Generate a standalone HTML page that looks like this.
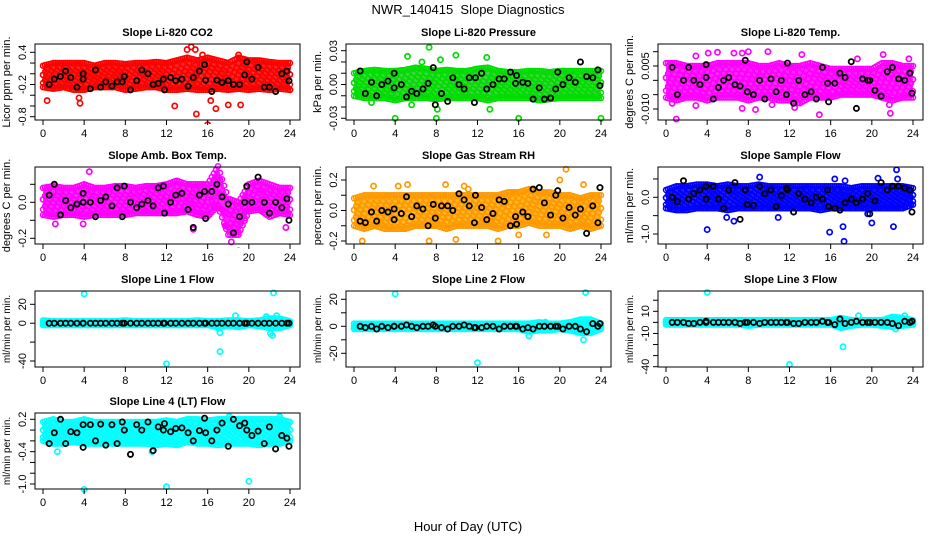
<!DOCTYPE html>
<html><head><meta charset="utf-8"><style>
html,body{margin:0;padding:0;background:#fff}
svg{display:block;font-family:"Liberation Sans",Arial,sans-serif}
</style></head><body>
<svg id="chart" width="936" height="540" viewBox="0 0 936 540">
<text x="468" y="14" text-anchor="middle" font-size="13" style="white-space:pre">NWR_140415  Slope Diagnostics</text>
<text x="468" y="531" text-anchor="middle" font-size="13">Hour of Day (UTC)</text>
</svg>
<script>
// shared black-point hours
const blkX=[0.6,1.1,1.7,2.2,2.7,3.3,3.9,3.9,4.6,5.1,5.6,6.1,6.7,7.2,7.7,7.9,8.5,9.1,9.6,10.2,10.7,11.2,11.7,11.8,12.4,12.9,13.5,14.1,14.6,15.2,15.7,15.8,16.4,16.9,17.4,18.0,18.5,19.1,19.6,19.8,20.3,20.9,21.5,22.0,22.6,23.2,23.7,23.9];
const xTicks=[0,4,8,12,16,20,24];
// envelope hours 0..24
const p1Lo=[-0.25,-0.28,-0.25,-0.3,-0.3,-0.25,-0.25,-0.25,-0.3,-0.28,-0.25,-0.25,-0.3,-0.3,-0.28,-0.3,-0.3,-0.28,-0.3,-0.28,-0.3,-0.28,-0.3,-0.28,-0.3];
const p1Hi=[0.15,0.2,0.2,0.2,0.2,0.15,0.2,0.2,0.18,0.2,0.2,0.22,0.2,0.25,0.3,0.25,0.3,0.25,0.2,0.3,0.25,0.25,0.22,0.2,0.2];
const p1OutX=[0.4,3.5,3.6,12.8,14,14.4,14.8,14.9,16,16.3,16.8,18,19.2,19,24,15.5];
const p1OutY=[-0.5,-0.45,-0.55,-0.6,0.45,0.5,0.45,-0.75,-0.95,-0.5,-0.65,-0.58,-0.58,0.35,-0.3,0.35];
const p1Blk=[-0.2,-0.1,-0.05,0.05,-0.07,-0.25,0.0,-0.1,-0.28,0.07,-0.25,-0.15,-0.23,-0.15,-0.15,-0.05,-0.3,-0.13,0.07,0.0,-0.2,-0.18,-0.1,-0.3,-0.07,-0.13,-0.1,-0.23,-0.07,0.05,0.17,-0.12,-0.33,-0.12,-0.16,-0.13,-0.2,-0.2,-0.02,0.22,-0.1,0.12,-0.25,-0.25,-0.33,0.0,0.05,-0.13];
const p1Ticks=[0.4,0.2,0,-0.2,-0.4,-0.6,-0.8];
const p1Labels=["0.4","","","-0.2","","","-0.8"];

const p2Lo=[-0.01,-0.012,-0.012,-0.012,-0.014,-0.012,-0.012,-0.012,-0.013,-0.012,-0.012,-0.012,-0.012,-0.014,-0.012,-0.012,-0.012,-0.012,-0.014,-0.013,-0.012,-0.012,-0.012,-0.012,-0.012];
const p2Hi=[0.01,0.012,0.013,0.012,0.012,0.013,0.015,0.014,0.012,0.013,0.012,0.012,0.014,0.015,0.012,0.011,0.011,0.012,0.012,0.011,0.012,0.012,0.012,0.012,0.012];
const p2OutX=[4,5.2,7.3,8,9.9,12.9,13.2,16,24,6.6,8.4,1.7,5.6,8.1];
const p2OutY=[-0.03,0.025,0.033,-0.03,0.026,0.024,-0.022,-0.03,-0.03,0.02,0.022,-0.016,-0.018,-0.022];
const p2Blk=[0.012,-0.008,0.002,-0.01,0.0,0.003,-0.003,0.01,0.0,-0.011,-0.006,-0.008,-0.004,0.001,0.015,-0.018,-0.008,-0.015,0.006,0.0,-0.004,0.006,-0.016,0.006,0.01,-0.004,0.0,0.005,0.005,0.011,0.001,0.008,0.002,0.001,-0.013,-0.003,-0.013,-0.012,-0.004,0.011,0.0,0.006,0.002,0.02,0.007,0.006,0.013,-0.001];
const p2Ticks=[0.03,0.02,0.01,0,-0.01,-0.02,-0.03];
const p2Labels=["0.03","","","0.00","","","-0.03"];

const p3Lo=[-0.006,-0.007,-0.006,-0.006,-0.007,-0.006,-0.006,-0.006,-0.007,-0.006,-0.006,-0.007,-0.007,-0.008,-0.006,-0.006,-0.006,-0.005,-0.005,-0.005,-0.005,-0.006,-0.007,-0.006,-0.006];
const p3Hi=[0.006,0.006,0.005,0.005,0.005,0.006,0.006,0.006,0.006,0.005,0.005,0.006,0.005,0.005,0.006,0.005,0.004,0.004,0.004,0.004,0.004,0.006,0.006,0.005,0.005];
const p3OutX=[1,2.9,4.1,5,6.6,7.4,8,9.9,13.2,14.9,18.6,21.1,21.8,0.6,2.9,7.4,8.7,10.3,12.5,21.7,23.6];
const p3OutY=[-0.0135,0.0085,0.0095,0.0098,0.0095,0.0095,0.01,0.01,0.009,-0.012,0.0075,0.009,-0.0115,-0.008,-0.0088,-0.0098,-0.0102,-0.0085,-0.0095,-0.0085,0.0075];
const p3Blk=[0.0045,-0.005,0.0,0.0045,0.0,-0.0015,0.0055,0.001,-0.0065,-0.0025,0.0,0.001,-0.0015,-0.002,0.007,-0.004,-0.005,0.0,-0.0065,0.0005,-0.004,0.0,-0.005,0.006,-0.008,0.0,-0.005,-0.004,-0.0065,0.0045,-0.001,-0.0075,-0.001,0.0025,0.001,0.0065,-0.0098,0.0005,0.0,0.0,-0.0035,-0.0055,0.003,0.0045,0.0005,0.0,0.0025,-0.0045];
const p3Ticks=[0.01,0.005,0,-0.005,-0.01];
const p3Labels=["","0.005","","","-0.010"];

const p4Lo=[-0.07,-0.08,-0.07,-0.07,-0.08,-0.07,-0.07,-0.07,-0.07,-0.06,-0.06,-0.06,-0.06,-0.06,-0.05,-0.07,-0.08,-0.02,-0.18,-0.18,-0.05,-0.04,-0.08,-0.06,-0.07];
const p4Hi=[0.08,0.09,0.08,0.08,0.1,0.08,0.08,0.09,0.09,0.08,0.09,0.09,0.1,0.12,0.1,0.1,0.1,0.2,0.02,0.0,0.1,0.12,0.1,0.08,0.08];
const p4OutX=[4.5,14.6,19,3.9,1.2,23.6,17.1,17.7,18.3];
const p4OutY=[0.17,-0.15,-0.27,-0.12,-0.12,-0.14,0.25,-0.13,-0.22];
const p4Blk=[0.04,0.1,-0.07,0.01,-0.03,-0.01,0.05,0.0,0.0,-0.08,0.01,0.03,-0.02,0.08,-0.08,0.09,0.0,-0.03,-0.01,0.01,-0.02,0.08,0.09,-0.06,0.0,0.04,0.05,-0.04,-0.14,0.04,0.06,-0.09,0.06,0.1,0.03,-0.01,-0.17,-0.08,0.0,0.09,0.0,0.14,0.0,-0.06,0.0,-0.03,0.02,-0.1];
const p4Ticks=[0.1,0,-0.1,-0.2];
const p4Labels=["","0.0","","-0.2"];

const p5Lo=[-0.1,-0.12,-0.1,-0.12,-0.12,-0.12,-0.1,-0.1,-0.1,-0.12,-0.1,-0.1,-0.1,-0.1,-0.12,-0.1,-0.1,-0.08,-0.1,-0.1,-0.1,-0.12,-0.1,-0.12,-0.1];
const p5Hi=[0.08,0.1,0.1,0.1,0.1,0.1,0.1,0.1,0.1,0.1,0.1,0.1,0.1,0.1,0.1,0.12,0.12,0.14,0.12,0.12,0.1,0.1,0.08,0.1,0.1];
const p5OutX=[0.8,1.9,4.3,5.2,8.9,9.9,14,7.3,20.6,20,22.3,16,18.7,11.1,10.7];
const p5OutY=[-0.2,0.16,0.16,0.17,0.17,-0.19,-0.2,-0.2,0.27,0.2,0.17,-0.16,-0.16,0.14,0.16];
const p5Blk=[-0.07,-0.08,-0.01,-0.07,0.0,-0.01,0.01,-0.06,-0.02,0.09,-0.04,0.03,0.01,-0.1,0.04,-0.05,0.03,0.03,0.0,0.11,0.07,0.03,-0.08,0.1,0.02,-0.06,-0.02,0.07,0.06,-0.1,-0.04,-0.09,-0.01,-0.04,0.14,0.15,0.05,-0.03,0.1,0.13,-0.05,0.02,-0.03,0.01,-0.15,0.03,-0.08,0.15];
const p5Ticks=[0.2,0.1,0,-0.1,-0.2];
const p5Labels=["0.2","","0.0","","-0.2"];

const p6Lo=[-0.3,-0.35,-0.35,-0.3,-0.3,-0.3,-0.35,-0.3,-0.3,-0.3,-0.3,-0.3,-0.3,-0.3,-0.3,-0.35,-0.3,-0.3,-0.3,-0.3,-0.3,-0.3,-0.3,-0.3,-0.2];
const p6Hi=[0.2,0.3,0.3,0.35,0.35,0.3,0.35,0.3,0.3,0.35,0.3,0.3,0.3,0.3,0.3,0.3,0.3,0.3,0.25,0.3,0.3,0.3,0.3,0.3,0.25];
const p6OutX=[4,9.1,5.9,6.6,10.9,15.9,16.4,17.2,17.3,17.4,20,20.6,22.4,22.5,22.1,19.6];
const p6OutY=[-0.88,0.55,-0.55,-0.65,-0.55,-0.95,0.5,-0.8,-1.2,0.45,-0.7,0.52,0.75,0.5,-0.8,-0.45];
const p6Blk=[0.0,-0.12,0.45,-0.05,0.1,0.2,0.3,-0.05,0.3,-0.05,-0.3,0.2,0.4,-0.6,0.2,-0.2,-0.22,0.3,0.1,0.2,-0.25,0.05,0.25,0.2,-0.4,0.1,-0.05,-0.15,0.0,-0.05,0.2,-0.25,-0.3,-0.35,-0.15,-0.05,-0.15,-0.05,0.1,-0.45,-0.1,0.4,0.2,0.3,0.3,0.25,0.2,-0.4];
const p6Ticks=[0.5,0,-0.5,-1.0];
const p6Labels=["","0.0","","-1.0"];

const p7Lo=[-2,-2,-2,-2,-2,-2,-2,-2,-2,-2,-2,-2,-2,-2,-2,-2,-2,-4,-3,-4,-2,-3,-5,-5,-2];
const p7Hi=[3,2,2,2,2,2,2,2,3,2,2,2,2,2,2,3,2,2,3,3,2,3,5,5,2];
const p7OutX=[4,12,17.2,17.2,22.4,22.7,18.7,21.7,22.3,22.1,17];
const p7OutY=[31,-43,-30,-10,32,8,8,7,-13,-11,-5];
const p7Blk=[0,0,0,0,0,0,0,0,0,0,0,0,0,0,0,0,0,0,0,0,0,0,0,0,0,0,0,0,0,0,0,0,0,0,0,0,0,0,0,0,0,0,0,0,0,0,0,0];
const p7Ticks=[20,0,-20,-40];
const p7Labels=["20","0","","-40"];

const p8Lo=[-2,-2,-2,-2,-2,-2,-2,-2,-2,-2,-2,-2,-2,-2,-2,-2,-2,-4,-3,-3,-2,-3,-5,-5,-2];
const p8Hi=[2,2,2,2,2,2,2,2,2,2,2,2,2,2,2,2,2,2,3,2,2,3,5,5,2];
const p8OutX=[4,12,22.5,22.3,17,18.6,22.6];
const p8OutY=[24,-27,25,-10,-7,3,5];
const p8Blk=[0,-1,0,-2,0,-1,0,0,0,1,0,-1,0,0,1,0,-1,-2,0,0,1,0,-1,-1,-1,0,0,-2,0,0,0,0,-2,-1,-2,0,0,0,0,0,-2,0,0,-2,-4,2,0,2];
const p8Ticks=[20,10,0,-10,-20];
const p8Labels=["20","","0","","-20"];

const p9Lo=[-2,-2,-2,-2,-2,-2,-2,-2,-3,-2,-2,-2,-2,-2,-2,-2,-2,-5,-3,-2,-2,-3,-4,-3,-2];
const p9Hi=[2,2,2,2,2,2,2,2,2,2,2,2,2,2,2,2,2,4,2,2,2,2,5,4,2];
const p9OutX=[4,12,17.2,18.7,23.2,22.3];
const p9OutY=[27,-38,-22,6,6,-6];
const p9Blk=[0,0,0,-1,-1,0,0,1,0,0,0,0,0,-1,0,0,0,-1,0,0,0,0,0,0,-1,-1,0,0,0,1,0,0,-2,3,-1,0,1,0,0,0,0,0,0,-1,-3,1,0,1];
const p9Ticks=[20,10,0,-10,-20,-30,-40];
const p9Labels=["","10","","-10","","","-40"];

const p10Lo=[-0.2,-0.25,-0.25,-0.22,-0.25,-0.25,-0.25,-0.25,-0.25,-0.25,-0.25,-0.28,-0.25,-0.28,-0.22,-0.25,-0.25,-0.28,-0.25,-0.25,-0.25,-0.28,-0.25,-0.25,-0.2];
const p10Hi=[0.15,0.2,0.15,0.15,0.2,0.15,0.15,0.15,0.15,0.15,0.15,0.15,0.18,0.15,0.2,0.2,0.18,0.2,0.2,0.2,0.2,0.2,0.2,0.2,0.15];
const p10OutX=[4,12,20,1.4,10.6,23,18.1];
const p10OutY=[-1.1,-1.05,-0.95,-0.4,-0.4,0.25,0.25];
const p10Blk=[-0.25,-0.05,0.2,-0.25,-0.03,-0.05,0.1,-0.32,0.1,-0.2,0.11,-0.28,0.1,-0.25,0.15,0.0,-0.45,0.1,0.0,0.15,-0.38,0.06,0.0,0.12,-0.03,0.03,0.04,-0.05,-0.2,-0.01,0.22,-0.05,-0.2,0.0,0.13,-0.3,0.2,0.08,0.13,0.0,-0.1,-0.02,-0.25,0.06,-0.35,-0.1,-0.15,-0.3];
const p10Ticks=[0.2,0,-0.2,-0.4,-0.6,-0.8,-1.0];
const p10Labels=["0.2","","","-0.4","","","-1.0"];

const NS="http://www.w3.org/2000/svg";
const svg=document.getElementById('chart');
const cols=[[35,300],[346,611],[658,923]];
const rows=[[44,120],[167,244],[291,367],[413,489]];
const panels=[
 {id:"co2",title:"Slope Li-820 CO2",yl:"Licor ppm per min.",c:0,r:0,col:"#ff0000",fill:"#ff0000",vA:0.4,pA:52.3,vB:-0.8,pB:116.7,lo:p1Lo,hi:p1Hi,ox:p1OutX,oy:p1OutY,bk:p1Blk,tk:p1Ticks,tl:p1Labels},
 {id:"pressure",title:"Slope Li-820 Pressure",yl:"kPa per min.",c:1,r:0,col:"#00dd00",fill:"#22cc22",vA:0.03,pA:50.7,vB:-0.03,pB:118.3,lo:p2Lo,hi:p2Hi,ox:p2OutX,oy:p2OutY,bk:p2Blk,tk:p2Ticks,tl:p2Labels},
 {id:"temp",title:"Slope Li-820 Temp.",yl:"degrees C per min.",c:2,r:0,col:"#ff00ff",fill:"#ff00ff",vA:0.005,pA:66,vB:-0.01,pB:109,lo:p3Lo,hi:p3Hi,ox:p3OutX,oy:p3OutY,bk:p3Blk,tk:p3Ticks,tl:p3Labels},
 {id:"amb-box-temp",title:"Slope Amb. Box Temp.",yl:"degrees C per min.",c:0,r:1,col:"#ff00ff",fill:"#ff00ff",vA:0,pA:202.3,vB:-0.2,pB:238.3,lo:p4Lo,hi:p4Hi,ox:p4OutX,oy:p4OutY,bk:p4Blk,tk:p4Ticks,tl:p4Labels},
 {id:"gas-stream-rh",title:"Slope Gas Stream RH",yl:"percent per min.",c:1,r:1,col:"#ff9900",fill:"#ffaa00",vA:0.2,pA:180,vB:-0.2,pB:241,lo:p5Lo,hi:p5Hi,ox:p5OutX,oy:p5OutY,bk:p5Blk,tk:p5Ticks,tl:p5Labels},
 {id:"sample-flow",title:"Slope Sample Flow",yl:"ml/min per min.",c:2,r:1,col:"#0000ff",fill:"#0000ee",vA:0,pA:197.3,vB:-1.0,pB:234,lo:p6Lo,hi:p6Hi,ox:p6OutX,oy:p6OutY,bk:p6Blk,tk:p6Ticks,tl:p6Labels},
 {id:"line1-flow",title:"Slope Line 1 Flow",yl:"ml/min per min.",c:0,r:2,col:"#00ffff",fill:"#00ffff",vA:20,pA:304.3,vB:-40,pB:361,lo:p7Lo,hi:p7Hi,ox:p7OutX,oy:p7OutY,bk:p7Blk,tk:p7Ticks,tl:p7Labels},
 {id:"line2-flow",title:"Slope Line 2 Flow",yl:"ml/min per min.",c:1,r:2,col:"#00ffff",fill:"#00ffff",vA:20,pA:299.3,vB:-20,pB:353.3,lo:p8Lo,hi:p8Hi,ox:p8OutX,oy:p8OutY,bk:p8Blk,tk:p8Ticks,tl:p8Labels},
 {id:"line3-flow",title:"Slope Line 3 Flow",yl:"ml/min per min.",c:2,r:2,col:"#00ffff",fill:"#00ffff",vA:10,pA:311.3,vB:-40,pB:366.7,lo:p9Lo,hi:p9Hi,ox:p9OutX,oy:p9OutY,bk:p9Blk,tk:p9Ticks,tl:p9Labels},
 {id:"line4-flow",title:"Slope Line 4 (LT) Flow",yl:"ml/min per min.",c:0,r:3,col:"#00ffff",fill:"#00ffff",vA:0.2,pA:419.3,vB:-1.0,pB:484,lo:p10Lo,hi:p10Hi,ox:p10OutX,oy:p10OutY,bk:p10Blk,tk:p10Ticks,tl:p10Labels}
];
function mk(tag,attrs,parent){const e=document.createElementNS(NS,tag);for(const k in attrs)e.setAttribute(k,attrs[k]);parent.appendChild(e);return e;}
function interp(arr,h){const i=Math.min(23,Math.floor(h));const f=h-i;return arr[i]*(1-f)+arr[i+1]*f;}
panels.forEach(p=>{
 const [L,R]=cols[p.c],[T,B]=rows[p.r];
 const xs=h=>L+8+h*(R-L-18)/24;
 const ys=v=>p.pA+(v-p.vA)*(p.pB-p.pA)/(p.vB-p.vA);
 const g=mk('g',{},svg);
 
 
 const clipId='clip-'+p.id;
 const cp=mk('clipPath',{id:clipId},g);mk('rect',{x:L,y:T-4,width:R-L,height:B-T+8},cp);
 const data=mk('g',{'clip-path':'url(#'+clipId+')'},g);
 
 
 let pts=[];
 for(let h=0;h<=24.001;h+=0.5)pts.push(xs(h)+','+ys(interp(p.hi,Math.min(h,24))));
 for(let h=24;h>=-0.001;h-=0.5)pts.push(xs(h)+','+ys(interp(p.lo,Math.max(h,0))));
 const band=mk('polygon',{points:pts.join(' '),fill:p.fill,'fill-opacity':0.85,stroke:'none'},data);
 
 
 const fr=[0,0.2,0.45,0.7,1];
 let k=0;
 for(let h=0;h<=24.001;h+=0.2){
   const hh=Math.min(h,24);const lo=interp(p.lo,hh),hi=interp(p.hi,hh);
   fr.forEach((f,j)=>{
     const off=((k+j)%3-1)*0.12*(hi-lo);
     let v=lo+f*(hi-lo)+(j===0||j===4?0:off);
     const c=mk('circle',{cx:xs(hh),cy:ys(v),r:2.5,fill:'none',stroke:p.col,'stroke-width':1.5},data);
     
     
   });k++;
 }
 p.ox.forEach((h,i)=>{
   const c=mk('circle',{cx:xs(h),cy:ys(p.oy[i]),r:2.6,fill:'none',stroke:p.col,'stroke-width':1.7},data);
   
   
 });
 blkX.forEach((h,i)=>{
   const c=mk('circle',{cx:xs(h),cy:ys(p.bk[i]),r:2.6,fill:'none',stroke:'#000','stroke-width':1.8},data);
   
   
 });
 const box=mk('rect',{x:L,y:T,width:R-L,height:B-T,fill:'none',stroke:'#000','stroke-width':1},g);
 
 
 const t=mk('text',{x:(L+R)/2,y:T-8,'text-anchor':'middle','font-size':11,'font-weight':'bold'},g);
 t.textContent=p.title;
 
 
 const yl=mk('text',{x:0,y:0,'text-anchor':'middle','font-size':p.r>=2?10:11,transform:'translate('+(L-25)+','+((T+B)/2)+') rotate(-90)'},g);
 yl.textContent=p.yl;
 
 
 xTicks.forEach(h=>{
   mk('line',{x1:xs(h),x2:xs(h),y1:B,y2:B+5,stroke:'#000'},g);
   const tx=mk('text',{x:xs(h),y:B+17,'text-anchor':'middle','font-size':11},g);
   tx.textContent=h;
   
   
 });
 p.tk.forEach((v,i)=>{
   const y=ys(v);
   mk('line',{x1:L-5,x2:L,y1:y,y2:y,stroke:'#000'},g);
   if(p.tl[i]){
     const ty=mk('text',{x:0,y:0,'text-anchor':'middle','font-size':11,transform:'translate('+(L-9)+','+y+') rotate(-90)'},g);
     ty.textContent=p.tl[i];
     
     
   }
 });
});
</script>
</body></html>
